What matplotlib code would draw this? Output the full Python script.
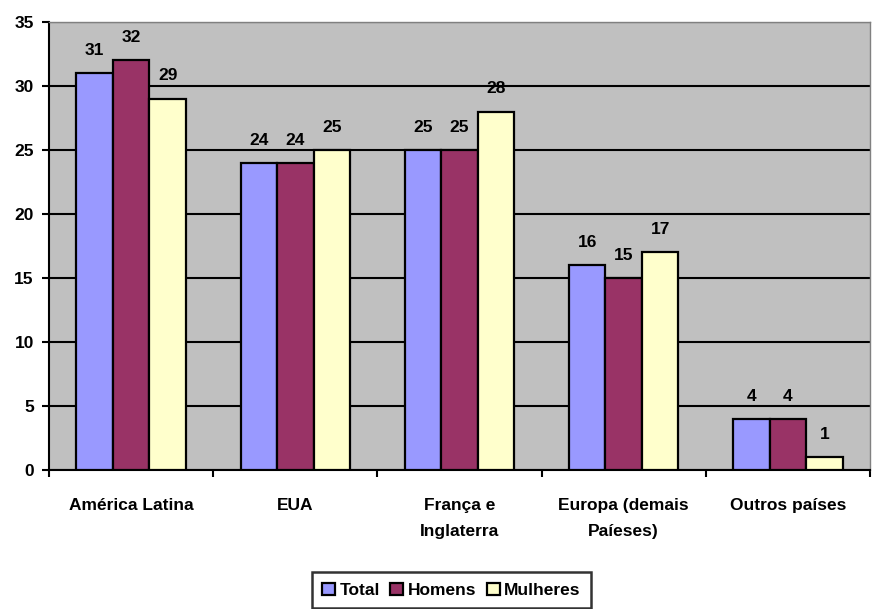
import numpy as np
import matplotlib.pyplot as plt

categorias = ['América Latina', 'EUA', 'França e\nInglaterra', 'Europa (demais\nPaíeses)', 'Outros países']
total = [31, 24, 25, 16, 4]
homens = [32, 24, 25, 15, 4]
mulheres = [29, 25, 28, 17, 1]
series = ['Total', 'Homens', 'Mulheres']
cores = ['#9999FF', '#993366', '#FFFFCC']

plt.rcParams['font.family'] = ['Liberation Sans', 'DejaVu Sans']
plt.rcParams['font.weight'] = 'bold'
fs = 12.5

fig = plt.figure(figsize=(8.76, 6.09), dpi=100, facecolor='w')
ax = fig.add_axes([0.056, 0.228, 0.937, 0.736])
ax.set_facecolor('#C0C0C0')

x = np.arange(len(categorias))
w = 1 / 4.5
for i, (vals, nome, cor) in enumerate(zip([total, homens, mulheres], series, cores)):
    pos = x + (i - 1) * w
    bars = ax.bar(pos, vals, w, color=cor, edgecolor='black', linewidth=1.6, label=nome, zorder=3)
    for b, v in zip(bars, vals):
        ax.annotate(str(v), (b.get_x() + b.get_width() / 2, v), xytext=(0, 11),
                    textcoords='offset points', ha='center', va='bottom',
                    fontsize=fs, fontweight='bold')

ax.set_xlim(-0.5, len(categorias) - 0.5)
ax.set_ylim(0, 35)
ax.set_yticks(range(0, 36, 5))
ax.yaxis.grid(True, color='black', linewidth=1.5, zorder=1)
ax.set_axisbelow(True)

ax.set_xticks(x)
ax.set_xticklabels(categorias, fontsize=fs, fontweight='bold', linespacing=1.95)
ax.tick_params(axis='x', length=0, pad=20)
ax.set_xticks(np.arange(-0.5, len(categorias)), minor=True)
ax.tick_params(axis='x', which='minor', length=5, width=1.5, direction='out')
ax.tick_params(axis='y', length=5, width=1.5, labelsize=fs, pad=6)
for lab in ax.get_yticklabels():
    lab.set_fontweight('bold')

for s in ['left', 'bottom']:
    ax.spines[s].set_linewidth(1.5)
for s in ['top', 'right']:
    ax.spines[s].set_color('#808080')
    ax.spines[s].set_linewidth(1)

leg = ax.legend(loc='center', bbox_to_anchor=(0.49, -0.268), ncol=3, frameon=True,
                fancybox=False, edgecolor='black', fontsize=fs,
                handlelength=0.75, handleheight=0.75, handletextpad=0.25,
                columnspacing=0.6, borderpad=0.6, borderaxespad=0)
leg.get_frame().set_linewidth(1.8)
for t in leg.get_texts():
    t.set_fontweight('bold')

fig.savefig('out.png', dpi=100, facecolor='w')
